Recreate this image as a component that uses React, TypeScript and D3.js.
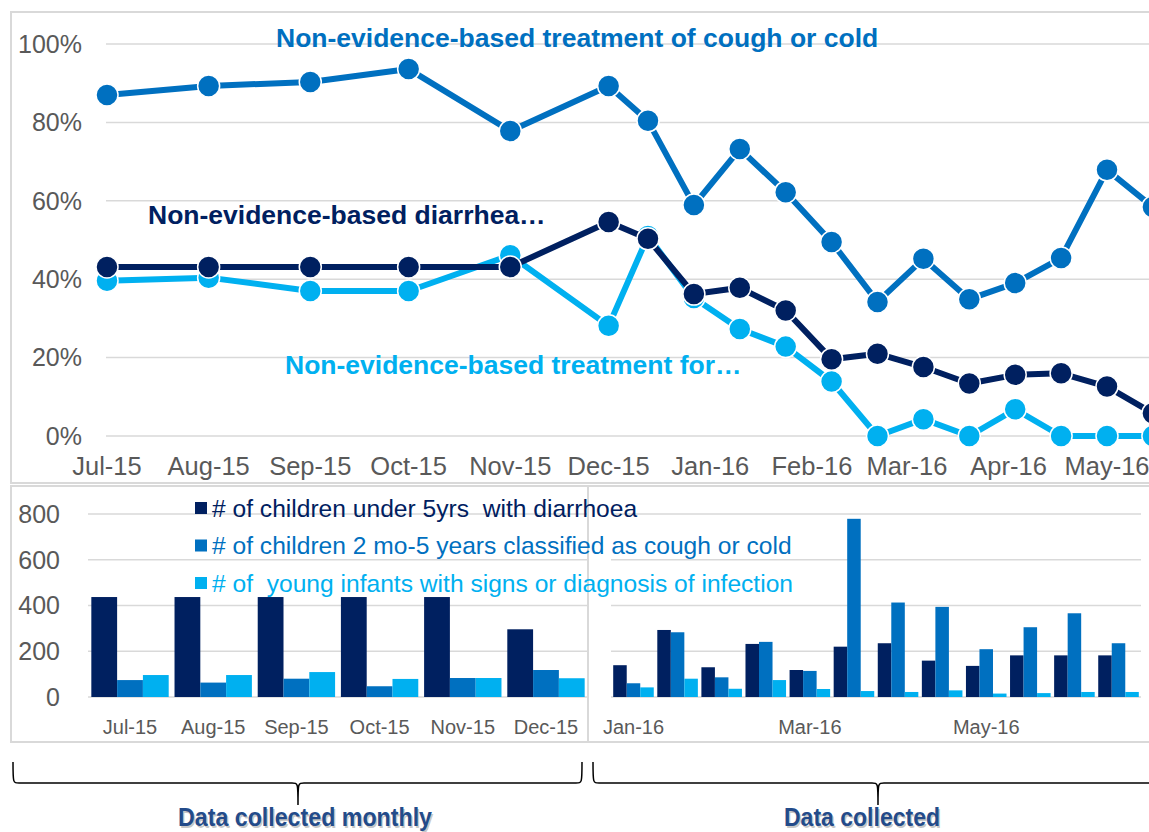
import { useEffect, useRef } from 'react';
import * as d3 from 'd3';

// ---- Line chart data (share of cases, %) ----
const LINE_DATES = [
  '2015-07-01', '2015-08-01', '2015-09-01', '2015-10-01', '2015-11-01', '2015-12-01',
  '2015-12-13', '2015-12-27', '2016-01-10', '2016-01-24', '2016-02-07', '2016-02-21',
  '2016-03-06', '2016-03-20', '2016-04-03', '2016-04-17', '2016-05-01', '2016-05-15',
];
const COUGH_PCT = [87, 89.3, 90.3, 93.6, 77.8, 89.3, 80.4, 58.9, 73.2, 62.2, 49.5, 34.2, 45.2, 34.9, 39.0, 45.4, 67.9, 58.4];
const DIARRHOEA_PCT = [43.1, 43.1, 43.1, 43.1, 43.1, 54.6, 50.3, 36.2, 37.8, 32.0, 19.6, 21.0, 17.6, 13.4, 15.6, 16.0, 12.6, 5.8];
const INFECTION_PCT = [39.6, 40.4, 37.0, 37.0, 46.1, 28.1, 51.0, 35.2, 27.3, 22.8, 13.9, 0, 4.3, 0, 6.8, 0, 0, 0];
const PCT_TICKS = [0, 20, 40, 60, 80, 100];

// ---- Bar chart data (counts) ----
const LEFT_MONTHS = ['Jul-15', 'Aug-15', 'Sep-15', 'Oct-15', 'Nov-15', 'Dec-15'];
const LEFT_DIARRHOEA = [437, 437, 437, 437, 437, 296];
const LEFT_COUGH = [74, 63, 80, 47, 83, 118];
const LEFT_INFECTION = [96, 96, 109, 79, 83, 82];

const RIGHT_LABELS = ['Jan-16', '', '', '', 'Mar-16', '', '', '', 'May-16', '', '', ''];
const RIGHT_DIARRHOEA = [139, 293, 130, 232, 118, 220, 235, 159, 136, 182, 182, 182];
const RIGHT_COUGH = [60, 283, 86, 241, 114, 779, 413, 394, 209, 305, 366, 235];
const RIGHT_INFECTION = [42, 80, 36, 74, 35, 26, 22, 29, 15, 17, 22, 22];
const COUNT_TICKS = [0, 200, 400, 600, 800];

const SERIES_KEYS = ['diarrhoea', 'cough', 'infection'];
const LEGEND_LABELS = [
  '# of children under 5yrs  with diarrhoea',
  '# of children 2 mo-5 years classified as cough or cold',
  '# of  young infants with signs or diagnosis of infection',
];

const COLORS: Record<string, string> = { diarrhoea: '#002060', cough: '#0070C0', infection: '#00B0F0' };
const GRID = '#D9D9D9';
const AXIS_TEXT = '#595959';
const FONT = '"Liberation Sans", Arial, sans-serif';

export default function App() {
  const svgRef = useRef<SVGSVGElement>(null);

  useEffect(() => {
    if (!svgRef.current) return;
    const svg = d3.select(svgRef.current).style('font-family', FONT);
    svg.selectAll('*').remove();

    const parse = d3.timeParse('%Y-%m-%d');
    const dates = LINE_DATES.map(s => parse(s) as Date);

    // Frames
    svg.append('rect').attr('x', 11).attr('y', 12).attr('width', 1170).attr('height', 471)
      .attr('fill', 'none').attr('stroke', GRID).attr('stroke-width', 2);
    svg.append('rect').attr('x', 11).attr('y', 486).attr('width', 577).attr('height', 256)
      .attr('fill', 'none').attr('stroke', GRID).attr('stroke-width', 2);
    svg.append('rect').attr('x', 588).attr('y', 486).attr('width', 590).attr('height', 256)
      .attr('fill', 'none').attr('stroke', GRID).attr('stroke-width', 2);

    // ===== Top line chart =====
    const x = d3.scaleTime()
      .domain([parse('2015-07-01'), parse('2016-05-01')])
      .range([107, 1107]);
    const y = d3.scaleLinear().domain([0, 100]).range([436, 44]);

    const top = svg.append('g');
    top.selectAll('line.grid').data(PCT_TICKS).enter().append('line')
      .attr('x1', 106).attr('x2', 1160)
      .attr('y1', (d: number) => y(d)).attr('y2', (d: number) => y(d))
      .attr('stroke', GRID).attr('stroke-width', 1.5);
    top.selectAll('text.ylab').data(PCT_TICKS).enter().append('text')
      .attr('x', 82).attr('y', (d: number) => y(d)).attr('dy', '0.35em')
      .attr('text-anchor', 'end').attr('font-size', 25).attr('fill', AXIS_TEXT)
      .text((d: number) => `${d}%`);

    const months = d3.timeMonth.range(parse('2015-07-01'), parse('2016-05-02'));
    const fmt = d3.timeFormat('%b-%y');
    top.selectAll('text.xlab').data(months).enter().append('text')
      .attr('x', (d: Date) => x(d)).attr('y', 475)
      .attr('text-anchor', 'middle').attr('font-size', 25.5).attr('fill', AXIS_TEXT)
      .text((d: Date) => fmt(d));

    const lineSeries = [
      { key: 'cough', values: COUGH_PCT },
      { key: 'infection', values: INFECTION_PCT },
      { key: 'diarrhoea', values: DIARRHOEA_PCT },
    ];
    const line = d3.line()
      .x((d: { date: Date; v: number }) => x(d.date))
      .y((d: { date: Date; v: number }) => y(d.v));

    lineSeries.forEach(s => {
      const pts = s.values.map((v, i) => ({ date: dates[i], v }));
      const g = top.append('g');
      g.append('path').datum(pts).attr('d', line)
        .attr('fill', 'none').attr('stroke', COLORS[s.key]).attr('stroke-width', 6)
        .attr('stroke-linejoin', 'round');
      g.selectAll('circle').data(pts).enter().append('circle')
        .attr('cx', (d: { date: Date }) => x(d.date)).attr('cy', (d: { v: number }) => y(d.v))
        .attr('r', 11).attr('fill', COLORS[s.key]).attr('stroke', '#ffffff').attr('stroke-width', 1.5);
    });

    // Series labels
    const seriesLabels = [
      { text: 'Non-evidence-based treatment of cough or cold', key: 'cough', x: 276, y: 47 },
      { text: 'Non-evidence-based diarrhea…', key: 'diarrhoea', x: 148, y: 224 },
      { text: 'Non-evidence-based treatment for…', key: 'infection', x: 285, y: 374 },
    ];
    seriesLabels.forEach(l => {
      top.append('text').attr('x', l.x).attr('y', l.y)
        .attr('font-size', 26.5).attr('font-weight', 700).attr('fill', COLORS[l.key])
        .text(l.text);
    });

    // ===== Bottom bar chart =====
    const yB = d3.scaleLinear().domain([0, 800]).range([697, 514]);
    const xLeft = d3.scaleBand().domain(LEFT_MONTHS).range([88, 588]).paddingInner(0.07).paddingOuter(0.04);
    const xRight = d3.scaleBand().domain(d3.range(RIGHT_LABELS.length)).range([611, 1141])
      .paddingInner(0.08).paddingOuter(0.05);

    const bottom = svg.append('g');
    [[88, 588], [611, 1141]].forEach(([x1, x2]) => {
      bottom.selectAll(null).data(COUNT_TICKS).enter().append('line')
        .attr('x1', x1).attr('x2', x2)
        .attr('y1', (d: number) => yB(d)).attr('y2', (d: number) => yB(d))
        .attr('stroke', GRID).attr('stroke-width', 1.5);
    });
    bottom.selectAll('text.ylab').data(COUNT_TICKS).enter().append('text')
      .attr('x', 60).attr('y', (d: number) => yB(d)).attr('dy', '0.35em')
      .attr('text-anchor', 'end').attr('font-size', 25).attr('fill', AXIS_TEXT)
      .text((d: number) => `${d}`);

    const drawGroups = (
      band: any,
      keys: (string | number)[],
      series: Record<string, number[]>,
    ) => {
      const inner = d3.scaleBand().domain(SERIES_KEYS).range([0, band.bandwidth()]);
      keys.forEach((k, i) => {
        SERIES_KEYS.forEach(sk => {
          const v = series[sk][i];
          bottom.append('rect')
            .attr('x', band(k) + inner(sk))
            .attr('y', yB(v))
            .attr('width', inner.bandwidth())
            .attr('height', yB(0) - yB(v))
            .attr('fill', COLORS[sk]);
        });
      });
    };
    drawGroups(xLeft, LEFT_MONTHS, { diarrhoea: LEFT_DIARRHOEA, cough: LEFT_COUGH, infection: LEFT_INFECTION });
    drawGroups(xRight, d3.range(RIGHT_LABELS.length), {
      diarrhoea: RIGHT_DIARRHOEA, cough: RIGHT_COUGH, infection: RIGHT_INFECTION,
    });

    bottom.selectAll('text.xl').data(LEFT_MONTHS).enter().append('text')
      .attr('x', (d: string) => (xLeft(d) ?? 0) + xLeft.bandwidth() / 2).attr('y', 734)
      .attr('text-anchor', 'middle').attr('font-size', 20).attr('fill', AXIS_TEXT)
      .text((d: string) => d);
    bottom.selectAll('text.xr').data(RIGHT_LABELS).enter().append('text')
      .attr('x', (_d: string, i: number) => (xRight(i) ?? 0) + xRight.bandwidth() / 2).attr('y', 734)
      .attr('text-anchor', 'middle').attr('font-size', 20).attr('fill', AXIS_TEXT)
      .text((d: string) => d);

    // Legend
    const legend = bottom.append('g').attr('transform', 'translate(195, 508)');
    SERIES_KEYS.forEach((k, i) => {
      const row = legend.append('g').attr('transform', `translate(0, ${i * 37.5})`);
      row.append('rect').attr('x', 0).attr('y', -6).attr('width', 12).attr('height', 12).attr('fill', COLORS[k]);
      row.append('text').attr('x', 17).attr('dy', '0.35em')
        .attr('font-size', 24.6).attr('fill', COLORS[k]).style('white-space', 'pre')
        .text(LEGEND_LABELS[i]);
    });

    // ===== Braces with captions =====
    const brace = (x0: number, x1: number, xm: number, yTop: number, yMid: number, yTip: number) => {
      const r = 6;
      return `M${x0},${yTop} C${x0},${yMid} ${x0},${yMid} ${x0 + r},${yMid} L${xm - r},${yMid}`
        + ` C${xm},${yMid} ${xm},${yMid} ${xm},${yTip} C${xm},${yMid} ${xm},${yMid} ${xm + r},${yMid}`
        + ` L${x1 - r},${yMid} C${x1},${yMid} ${x1},${yMid} ${x1},${yTop}`;
    };
    const braces = [
      { x0: 13, x1: 582, xm: 298, label: 'Data collected monthly', cx: 305, len: 254 },
      { x0: 593, x1: 1163, xm: 878, label: 'Data collected', cx: 862, len: 156 },
    ];
    braces.forEach(b => {
      svg.append('path').attr('d', brace(b.x0, b.x1, b.xm, 762, 783, 805))
        .attr('fill', 'none').attr('stroke', '#000000').attr('stroke-width', 1.5);
      svg.append('text').attr('x', b.cx + 1.5).attr('y', 827.5)
        .attr('text-anchor', 'middle').attr('font-size', 25).attr('font-weight', 700)
        .attr('fill', 'rgba(0,0,0,0.22)')
        .attr('textLength', b.len).attr('lengthAdjust', 'spacingAndGlyphs')
        .text(b.label);
      svg.append('text').attr('x', b.cx).attr('y', 826)
        .attr('text-anchor', 'middle').attr('font-size', 25).attr('font-weight', 700)
        .attr('fill', '#234B8A')
        .attr('textLength', b.len).attr('lengthAdjust', 'spacingAndGlyphs')
        .text(b.label);
    });

    return () => {
      svg.selectAll('*').remove();
    };
  }, []);

  return (
    <div style={{ position: 'absolute', left: 0, top: 0, width: 1149, height: 832, overflow: 'hidden', background: '#ffffff' }}>
      <svg ref={svgRef} width={1149} height={832} style={{ display: 'block' }} />
    </div>
  );
}
